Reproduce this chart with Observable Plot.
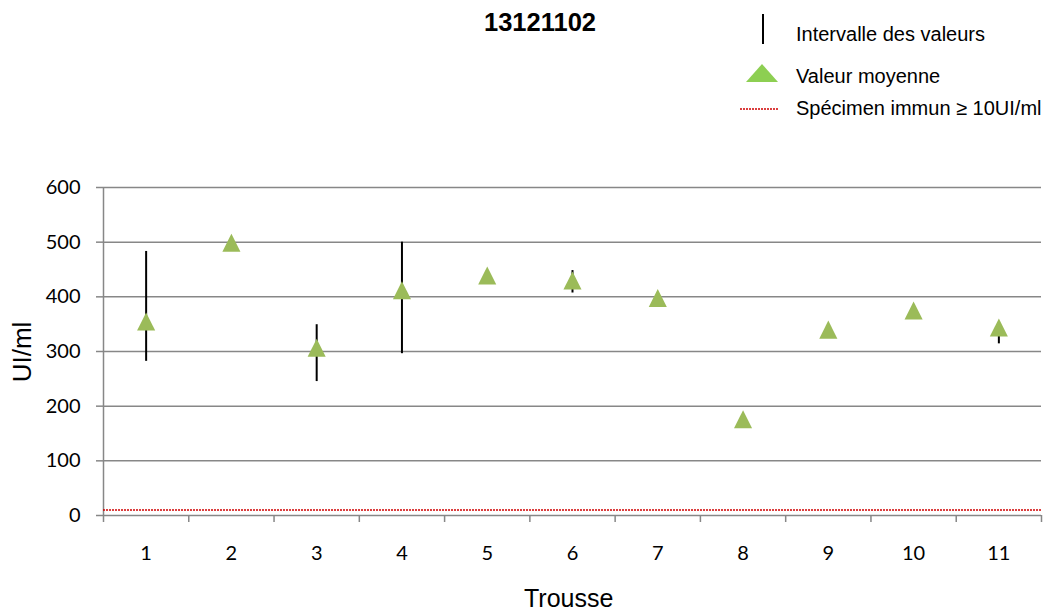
<!DOCTYPE html>
<html>
<head>
<meta charset="utf-8">
<script src="https://cdn.jsdelivr.net/npm/d3@7"></script>
<script src="https://cdn.jsdelivr.net/npm/@observablehq/plot@0.6"></script>
<style>
  html, body { margin: 0; padding: 0; background: #fff; }
  #wrap { position: relative; width: 1043px; height: 615px; overflow: hidden; }
  .t { position: absolute; font-family: "Liberation Sans", Arial, sans-serif; color: #000; white-space: nowrap; line-height: normal; }
  #title { left: 0; width: 1080px; top: 8px; text-align: center; font-weight: bold; font-size: 25.5px; }
  #ylab { left: 22px; top: 352px; font-size: 26px; transform: translate(-50%, -50%) rotate(-90deg); }
  #xlab { left: 524px; top: 586px; font-size: 25px; line-height: 1; }
  .leg { font-size: 20px; left: 796px; transform: translateY(-50%); }
  svg.sw { position: absolute; }
</style>
</head>
<body>
<div id="wrap">
  <div id="chart"></div>
  <div class="t" id="title">13121102</div>
  <div class="t" id="ylab">UI/ml</div>
  <div class="t" id="xlab">Trousse</div>
  <svg class="sw" style="left:755px;top:12px" width="16" height="34"><line x1="8" x2="8" y1="2" y2="32" stroke="#000" stroke-width="2"/></svg>
  <div class="t leg" style="top:34px">Intervalle des valeurs</div>
  <svg class="sw" style="left:744px;top:62px" width="36" height="22"><polygon points="18,2 34,20 2,20" fill="#8DCF52"/></svg>
  <div class="t leg" style="top:76px">Valeur moyenne</div>
  <svg class="sw" style="left:738px;top:104px" width="42" height="10"><line x1="2" x2="40" y1="5" y2="5" stroke="#D00000" stroke-width="1.5" stroke-dasharray="2,1"/></svg>
  <div class="t leg" style="top:107.5px">Spécimen immun ≥ 10UI/ml</div>
</div>
<script>
const kits = [1, 2, 3, 4, 5, 6, 7, 8, 9, 10, 11];
const means = [355, 499, 307, 412, 439, 430, 398, 176, 340, 375, 344];
const mins = [282, null, 245, 296, null, 407, null, null, null, null, 314];
const maxs = [483, null, 349, 500, null, 448, null, null, null, null, 352];
const yTicks = [0, 100, 200, 300, 400, 500, 600];
const threshold = [10];
const boundaries = [0.5, 1.5, 2.5, 3.5, 4.5, 5.5, 6.5, 7.5, 8.5, 9.5, 10.5, 11.5];

const data = kits.map((k, i) => ({kit: k, mean: means[i], lo: mins[i], hi: maxs[i]}));
const ranges = data.filter(d => d.lo != null && d.hi != null);

const triangle = {
  draw(context, size) {
    const h = Math.sqrt(size);
    context.moveTo(0, -h / 2);
    context.lineTo(h / 2, h / 2);
    context.lineTo(-h / 2, h / 2);
    context.closePath();
  }
};

const grey = "#878787";
const plot = Plot.plot({
  width: 1043,
  height: 615,
  marginLeft: 103,
  marginRight: 2,
  marginTop: 187,
  marginBottom: 100,
  style: {fontFamily: "Lato, 'Open Sans', sans-serif", fontSize: "20px", color: "#000", background: "#fff"},
  x: {domain: [0.5, 11.5], axis: null},
  y: {domain: [0, 600], axis: null},
  marks: [
    Plot.ruleY(yTicks, {stroke: grey, strokeWidth: 1.5}),
    Plot.ruleX([0.5], {stroke: grey, strokeWidth: 1.5}),
    Plot.axisY(yTicks, {tickSize: 7, tickPadding: 16, stroke: grey, strokeWidth: 1.5, fill: "#000", fontSize: 20, label: null}),
    Plot.axisX(boundaries, {tickSize: 7, stroke: grey, strokeWidth: 1.5, tickFormat: () => "", label: null}),
    Plot.axisX(kits, {tickSize: 0, tickPadding: 30, fill: "#000", fontSize: 20, label: null}),
    Plot.ruleY(threshold, {stroke: "#D00000", strokeWidth: 1.5, strokeDasharray: "2,1"}),
    Plot.ruleX(ranges, {x: "kit", y1: "lo", y2: "hi", stroke: "#000", strokeWidth: 2}),
    Plot.dot(data, {x: "kit", y: "mean", symbol: triangle, r: 10.2, fill: "#9BBB59", stroke: null})
  ]
});
document.getElementById("chart").appendChild(plot);
</script>
</body>
</html>
